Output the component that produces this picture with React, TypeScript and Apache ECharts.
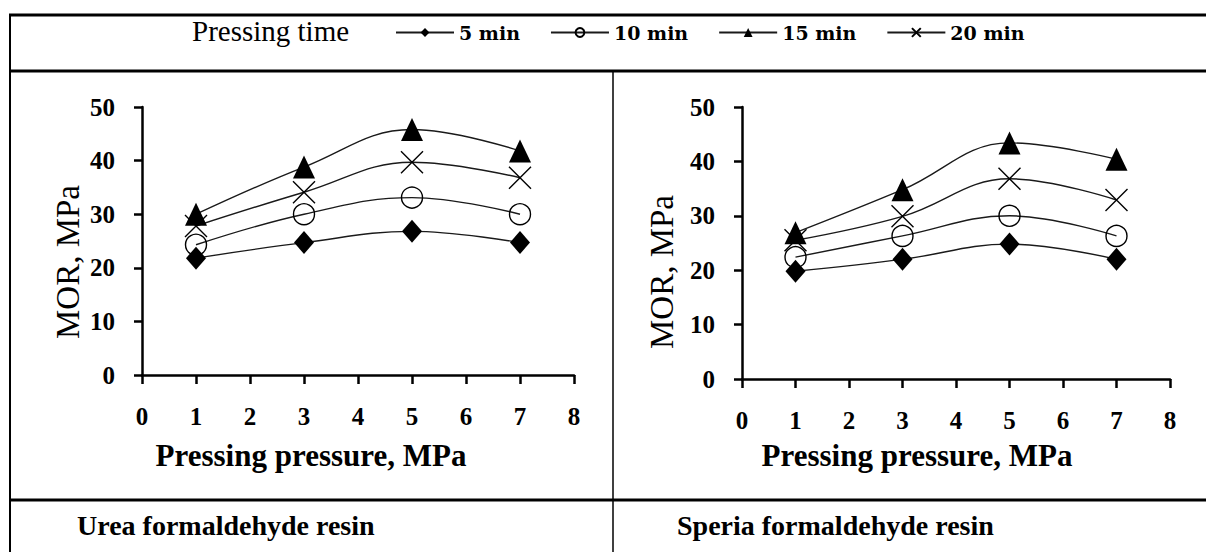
import React, { useEffect, useRef } from "react";
import * as echarts from "echarts";

// Pressing pressure (MPa) at which MOR was measured
const pressures = [1, 3, 5, 7];

// Urea formaldehyde resin – MOR (MPa) by pressing time
const ufMin5 = [21.8, 24.7, 26.8, 24.7];
const ufMin10 = [24.3, 30, 33.1, 30];
const ufMin15 = [30, 38.8, 45.8, 41.8];
const ufMin20 = [27.8, 34.1, 39.7, 36.8];

// Speria formaldehyde resin – MOR (MPa) by pressing time
const sfMin5 = [19.8, 22, 24.8, 22];
const sfMin10 = [22.4, 26.3, 30, 26.3];
const sfMin15 = [26.9, 34.8, 43.4, 40.4];
const sfMin20 = [25.5, 29.9, 36.8, 32.9];

const seriesNames = ["5 min", "10 min", "15 min", "20 min"];
const xTicks = { min: 0, max: 8, interval: 1 };
const yTicks = { min: 0, max: 50, interval: 10 };

const legendTitle = "Pressing time";
const yTitle = "MOR, MPa";
const xTitle = "Pressing pressure, MPa";
const captions = ["Urea formaldehyde resin", "Speria formaldehyde resin"];

const FONT = "Liberation Serif, Times New Roman, serif";

const markers = [
  { symbol: "diamond", size: [20, 23], fill: "#000", z: 3 },
  { symbol: "circle", size: 21, fill: "rgba(0,0,0,0)", z: 3 },
  { symbol: "triangle", size: [22, 23], fill: "#000", z: 5 },
  { symbol: "path://M0,0L10,10M10,0L0,10", size: 22, fill: "rgba(0,0,0,0)", z: 4 },
];

function pairs(values: number[]) {
  return pressures.map((p, i) => [p, values[i]]);
}

function buildSeries(groups: number[][], gridIndex: number) {
  return groups.map((vals, i) => ({
    type: "line",
    name: seriesNames[i],
    xAxisIndex: gridIndex,
    yAxisIndex: gridIndex,
    data: pairs(vals),
    smooth: 0.4,
    z: markers[i].z,
    symbol: markers[i].symbol,
    symbolSize: markers[i].size,
    showAllSymbol: true,
    lineStyle: { color: "#1a1a1a", width: 1.4 },
    itemStyle: {
      color: markers[i].fill,
      borderColor: "#000",
      borderWidth: markers[i].fill === "#000" ? 0 : 1.4,
    },
    emphasis: { disabled: true },
  }));
}

function axisX(gridIndex: number) {
  return {
    type: "value",
    gridIndex,
    ...xTicks,
    axisLine: { show: true, onZero: false, lineStyle: { color: "#000", width: 2.5 } },
    axisTick: { show: true, inside: false, length: 9, lineStyle: { color: "#000", width: 2.5 } },
    axisLabel: {
      margin: 29,
      fontSize: 25,
      fontWeight: "bold",
      fontFamily: FONT,
      color: "#000",
    },
    splitLine: { show: false },
  };
}

function axisY(gridIndex: number) {
  return {
    type: "value",
    gridIndex,
    ...yTicks,
    axisLine: { show: true, onZero: false, lineStyle: { color: "#000", width: 2.5 } },
    axisTick: { show: true, inside: false, length: 8, lineStyle: { color: "#000", width: 2.5 } },
    axisLabel: {
      margin: 27,
      fontSize: 25,
      fontWeight: "bold",
      fontFamily: FONT,
      color: "#000",
    },
    splitLine: { show: false },
  };
}

function hLine(x1: number, x2: number, y: number, w: number) {
  return { type: "line", shape: { x1, y1: y, x2, y2: y }, style: { stroke: "#000", lineWidth: w }, silent: true };
}
function vLine(x: number, y1: number, y2: number, w: number) {
  return { type: "line", shape: { x1: x, y1, x2: x, y2 }, style: { stroke: "#000", lineWidth: w }, silent: true };
}
function txt(text: string, x: number, y: number, size: number, bold: boolean, align: string, rotation = 0) {
  return {
    type: "text",
    x,
    y,
    rotation,
    silent: true,
    style: {
      text,
      fill: "#000",
      font: `${bold ? "bold " : ""}${size}px ${FONT}`,
      align,
      verticalAlign: "middle",
    },
  };
}

export default function App() {
  const ref = useRef<HTMLDivElement>(null);

  useEffect(() => {
    document.body.style.margin = "0";
    if (!ref.current) return;
    const chart = echarts.init(ref.current, undefined, { renderer: "svg" });
    chart.setOption({
      animation: false,
      backgroundColor: "#fff",
      legend: {
        data: seriesNames,
        left: 390,
        top: 18,
        itemWidth: 58,
        itemHeight: 11,
        itemGap: 30,
        selectedMode: false,
        textStyle: { fontFamily: "DejaVu Serif, serif", fontWeight: "bold", fontSize: 19, color: "#000" },
      },
      grid: [
        { left: 142, top: 107, width: 432, height: 268 },
        { left: 742, top: 107, width: 428, height: 272 },
      ],
      xAxis: [axisX(0), axisX(1)],
      yAxis: [axisY(0), axisY(1)],
      series: [
        ...buildSeries([ufMin5, ufMin10, ufMin15, ufMin20], 0),
        ...buildSeries([sfMin5, sfMin10, sfMin15, sfMin20], 1),
      ],
      graphic: [
        hLine(9, 1206, 15, 3),
        vLine(10, 14, 552, 2),
        hLine(9, 1206, 71, 3),
        vLine(613, 71, 552, 1.5),
        hLine(9, 1206, 500, 3),
        txt(legendTitle, 192, 31, 29, false, "left"),
        txt(yTitle, 68, 262, 33, false, "center", Math.PI / 2),
        txt(yTitle, 662, 272, 33, false, "center", Math.PI / 2),
        txt(xTitle, 311, 455, 31, true, "center"),
        txt(xTitle, 917, 455, 31, true, "center"),
        txt(captions[0], 77, 525, 28, true, "left"),
        txt(captions[1], 677, 525, 28, true, "left"),
      ],
    });
    return () => chart.dispose();
  }, []);

  return <div ref={ref} style={{ width: 1206, height: 552 }} />;
}
